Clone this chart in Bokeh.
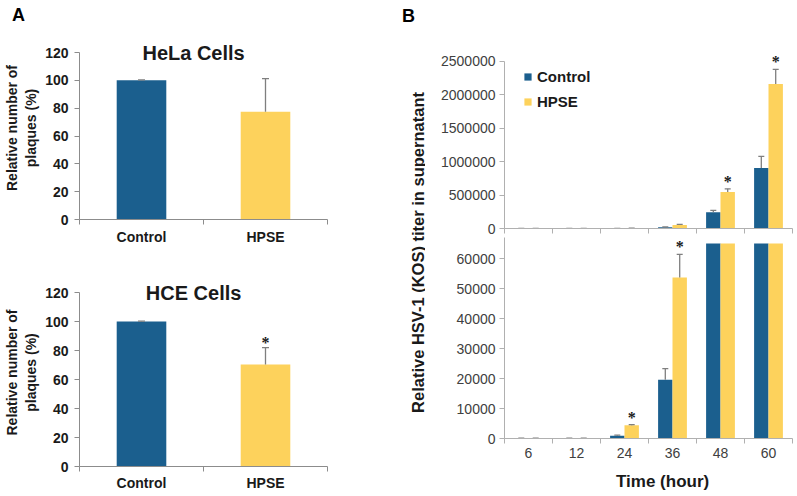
import math
from bokeh.plotting import figure
from bokeh.layouts import row, column
from bokeh.models import (FactorRange, Range1d, CategoricalAxis, LinearAxis, FixedTicker,
                          SingleIntervalTicker, NumeralTickFormatter, Label, LabelSet,
                          ColumnDataSource, Legend, LegendItem, CDSView, BooleanFilter, Div)
from bokeh.transform import dodge, factor_cmap
from bokeh.embed import file_html
from bokeh.resources import INLINE

# ---------------- data ----------------
groups = ["Control", "HPSE"]
hela_mean = [100, 77.5]
hela_err = [0.3, 23.8]
hela_star = ["", ""]
hce_mean = [100, 70.4]
hce_err = [0.3, 11.6]
hce_star = ["", "*"]

times = ["6", "12", "24", "36", "48", "60"]
ctrl_mean = [60, 80, 900, 19600, 243000, 906000]
ctrl_err = [30, 30, 250, 3700, 29000, 173000]
hpse_mean = [90, 110, 4400, 53700, 545000, 2163000]
hpse_err = [40, 40, 250, 7700, 49000, 218000]
hpse_star = ["", "", "*", "*", "*", "*"]

pct_ticks = 20
pct_max = 120
low_cap = 65000          # where the lower (zoomed) axis is broken
high_max = 2500000
high_tick = 500000
low_tick = 10000

# ---------------- style ----------------
BLUE = "#1b5f8e"
YELLOW = "#fdd25c"
ERR = "#7f7f7f"
AXA = "#8c8c8c"
AXB = "#b0b0b0"
FONT = "Liberation Sans"
DARK = "#1a1a1a"
GRAY = "#404040"


def base_fig(x_range, y_range, w, h, bl, br, bt, bb):
    p = figure(x_range=x_range, y_range=y_range, width=w, height=h,
               output_backend="svg", toolbar_location=None,
               x_axis_location=None,
               min_border_left=bl, min_border_right=br,
               min_border_top=bt, min_border_bottom=bb)
    p.outline_line_color = None
    p.grid.visible = False
    p.background_fill_color = "white"
    p.border_fill_color = "white"
    return p


def edge_axis(p, n, color):
    # axis line with tick marks on the category boundaries
    ax = LinearAxis(ticker=FixedTicker(ticks=[], minor_ticks=list(range(n + 1))),
                    axis_line_color=color, minor_tick_line_color=color,
                    minor_tick_in=0, minor_tick_out=5, major_tick_in=0, major_tick_out=5,
                    major_label_standoff=0)
    p.add_layout(ax, "below")


def cat_axis(p, bold, standoff, text_color):
    ax = CategoricalAxis(axis_line_color=None, major_tick_line_color=None,
                         minor_tick_line_color=None, major_tick_in=0, major_tick_out=0,
                         major_label_standoff=standoff, major_label_text_font=FONT,
                         major_label_text_font_style="bold" if bold else "normal",
                         major_label_text_font_size="14px", major_label_text_color=text_color)
    p.add_layout(ax, "below")
    return ax


def panel_a(title, mean, err, star, w, h, bl, br, bt, bb, ymax, standoff):
    up = [m + e for m, e in zip(mean, err)]
    src = ColumnDataSource(dict(g=groups, m=mean, up=up))
    p = base_fig(FactorRange(*groups), Range1d(0, ymax), w, h, bl, br, bt, bb)
    p.vbar(x="g", top="m", width=0.4, source=src,
           fill_color=factor_cmap("g", [BLUE, YELLOW], groups), line_color=None)
    p.segment(x0="g", y0="m", x1="g", y1="up", source=src, line_color=ERR, line_width=1.3)
    p.scatter(x="g", y="up", marker="dash", size=7, source=src, line_color=ERR, line_width=1.3)
    sg = [g for g, s in zip(groups, star) if s]
    if sg:
        su = [u for u, s in zip(up, star) if s]
        st = [s for s in star if s]
        p.add_layout(LabelSet(x="g", y="u", text="s",
                              source=ColumnDataSource(dict(g=sg, u=su, s=st)),
                              text_font=FONT, text_font_style="bold", text_font_size="16px",
                              text_color=DARK, text_align="center", text_baseline="bottom",
                              y_offset=-3))
    edge_axis(p, len(groups), AXA)
    cat_axis(p, True, standoff, DARK)
    ya = p.yaxis[0]
    ya.bounds = (0, pct_max)
    ya.ticker = SingleIntervalTicker(interval=pct_ticks)
    ya.minor_tick_line_color = None
    ya.major_tick_in = 0
    ya.major_tick_out = 5
    ya.major_label_standoff = 6
    ya.axis_line_color = AXA
    ya.major_tick_line_color = AXA
    ya.major_label_text_font = FONT
    ya.major_label_text_font_style = "bold"
    ya.major_label_text_font_size = "14px"
    ya.major_label_text_color = DARK
    ya.axis_label = "Relative number of\nplaques (%)"
    ya.axis_label_text_font = FONT
    ya.axis_label_text_font_style = "bold"
    ya.axis_label_text_font_size = "14px"
    ya.axis_label_text_color = DARK
    ya.axis_label_standoff = 3
    p.add_layout(Label(x=0.92, y=pct_max, text=title, text_font=FONT, text_font_style="bold",
                       text_font_size="20px", text_color=DARK, text_align="center",
                       text_baseline="middle"))
    return p


def text_fig(w, h):
    f = figure(width=w, height=h, x_range=Range1d(0, 1), y_range=Range1d(0, 1),
               output_backend="svg", toolbar_location=None,
               x_axis_location=None, y_axis_location=None,
               min_border=0, min_border_left=0, min_border_right=0,
               min_border_top=0, min_border_bottom=0)
    f.outline_line_color = None
    f.grid.visible = False
    return f


letter_a = Div(text="A", width=340, height=26, margin=0,
               styles={"font-family": FONT, "font-weight": "bold", "font-size": "18px",
                       "line-height": "30px", "text-indent": "12px", "color": "black",
                       "overflow": "hidden"})

a1 = panel_a("HeLa Cells", hela_mean, hela_err, hela_star, 340, 224, 77, 13, 10, 31, 131.5, 4)
a2 = panel_a("HCE Cells", hce_mean, hce_err, hce_star, 340, 246, 79, 1, 28, 30, 129.7, 3)

# ---------------- panel B ----------------
ctrl_up = [m + e for m, e in zip(ctrl_mean, ctrl_err)]
hpse_up = [m + e for m, e in zip(hpse_mean, hpse_err)]
bsrc = ColumnDataSource(dict(t=times, c=ctrl_mean, h=hpse_mean, cu=ctrl_up, hu=hpse_up,
                             c_low=[min(v, low_cap) for v in ctrl_mean],
                             h_low=[min(v, low_cap) for v in hpse_mean]))


def panel_b(y_range, h, bt, bb, tick, low):
    p = base_fig(FactorRange(*times), y_range, 372, h, 79, 5, bt, bb)
    xc = dodge("t", -0.15, range=p.x_range)
    xh = dodge("t", 0.15, range=p.x_range)
    rc = p.vbar(x=xc, top="c_low" if low else "c", width=0.3, source=bsrc,
                fill_color=BLUE, line_color=None)
    rh = p.vbar(x=xh, top="h_low" if low else "h", width=0.3, source=bsrc,
                fill_color=YELLOW, line_color=None)
    for x, y0, y1, ups in ((xc, "c", "cu", ctrl_up), (xh, "h", "hu", hpse_up)):
        mask = [(u < low_cap) if low else True for u in ups]
        view = CDSView(filter=BooleanFilter(mask))
        p.segment(x0=x, y0=y0, x1=x, y1=y1, source=bsrc, view=view,
                  line_color=ERR, line_width=1.3)
        p.scatter(x=x, y=y1, marker="dash", size=6, source=bsrc, view=view,
                  line_color=ERR, line_width=1.3)
    keep = [bool(s) and ((u < low_cap) == low) for s, u in zip(hpse_star, hpse_up)]
    ssrc = ColumnDataSource(dict(t=[t for t, k in zip(times, keep) if k],
                                 u=[u for u, k in zip(hpse_up, keep) if k],
                                 s=[s for s, k in zip(hpse_star, keep) if k]))
    p.add_layout(LabelSet(x=dodge("t", 0.15, range=p.x_range), y="u", text="s", source=ssrc,
                          text_font=FONT, text_font_style="bold", text_font_size="16px",
                          text_color=DARK, text_align="center", text_baseline="bottom",
                          y_offset=-1))
    edge_axis(p, len(times), AXB)
    ya = p.yaxis[0]
    ya.ticker = SingleIntervalTicker(interval=tick)
    ya.formatter = NumeralTickFormatter(format="0")
    ya.minor_tick_line_color = None
    ya.major_tick_in = 0
    ya.major_tick_out = 5
    ya.major_label_standoff = 4
    ya.axis_line_color = AXB
    ya.major_tick_line_color = AXB
    ya.major_label_text_font = FONT
    ya.major_label_text_font_size = "14px"
    ya.major_label_text_color = GRAY
    return p, rc, rh


bt_fig, rc, rh = panel_b(Range1d(0, 2814000), 237, 40, 9, high_tick, False)
bt_fig.yaxis[0].bounds = (0, high_max)
leg = Legend(items=[LegendItem(label="Control", renderers=[rc]),
                    LegendItem(label="HPSE", renderers=[rh])],
             location=(19, 118), padding=0, margin=0, spacing=8,
             glyph_width=9, glyph_height=9, label_height=9, label_standoff=5,
             label_text_font=FONT, label_text_font_style="bold",
             label_text_font_size="15px", label_text_color=DARK,
             border_line_color=None, background_fill_alpha=0)
bt_fig.add_layout(leg)

bb_fig, _, _ = panel_b(Range1d(0, 67000), 234, 0, 33, low_tick, True)
cat_axis(bb_fig, False, 4, GRAY)

time_div = Div(text="Time (hour)", width=372, height=25, margin=0,
               styles={"font-family": FONT, "font-weight": "bold", "font-size": "17px",
                       "line-height": "22px", "text-indent": "191px", "color": DARK,
                       "white-space": "nowrap", "overflow": "hidden"})

# label column for panel B
lab = text_fig(85, 496)
lab.add_layout(Label(x=77, y=244, x_units="screen", y_units="screen",
                     text="Relative HSV-1 (KOS) titer in supernatant", angle=math.pi / 2,
                     text_font=FONT, text_font_style="bold", text_font_size="16.5px",
                     text_color=DARK, text_align="center", text_baseline="middle"))
lab.add_layout(Label(x=68, y=481, x_units="screen", y_units="screen", text="B",
                     text_font=FONT, text_font_style="bold", text_font_size="18px",
                     text_color="black", text_align="center", text_baseline="middle"))

layout = row(column(letter_a, a1, a2), lab, column(bt_fig, bb_fig, time_div))
open("out.html", "w").write(file_html(layout, INLINE))
